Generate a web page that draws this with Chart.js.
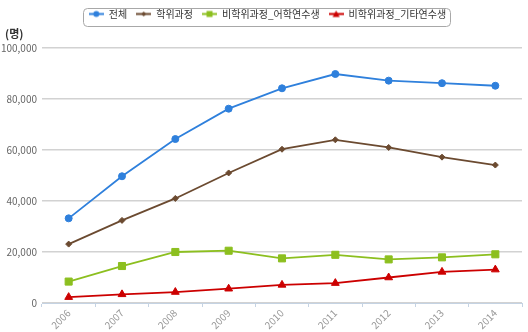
<!DOCTYPE html>
<html>
<head>
<meta charset="utf-8">
<script src="https://cdn.jsdelivr.net/npm/chart.js@4"></script>
<style>
  html, body { margin: 0; padding: 0; background: #fff; }
  #wrap { width: 528px; height: 332px; }
</style>
</head>
<body>
<div id="wrap"><canvas id="chart"></canvas></div>
<script>
const years = ["2006", "2007", "2008", "2009", "2010", "2011", "2012", "2013", "2014"];
const total = [33200, 49700, 64300, 76200, 84200, 89800, 87200, 86200, 85200];
const degree = [23100, 32400, 41000, 51000, 60300, 64000, 61000, 57200, 54100];
const langStudents = [8400, 14500, 20000, 20500, 17500, 18900, 17100, 17900, 19100];
const otherStudents = [2300, 3400, 4300, 5600, 7100, 7800, 10000, 12200, 13100];
const yTicks = [0, 20000, 40000, 60000, 80000, 100000];

const FONT = "'Noto Sans CJK KR', 'Noto Sans', sans-serif";
const LEGEND_SHIFT = 5;

// legend icon: short line with the marker on it
function legendIcon(color, style) {
  const c = document.createElement("canvas");
  c.width = 15; c.height = 9;
  const g = c.getContext("2d");
  g.strokeStyle = color; g.fillStyle = color; g.lineWidth = 2;
  g.beginPath(); g.moveTo(0, 4.5); g.lineTo(15, 4.5); g.stroke();
  g.beginPath();
  if (style === "circle") g.arc(7.5, 4.5, 3, 0, Math.PI * 2);
  else if (style === "rectRot") { g.moveTo(7.5, 2); g.lineTo(10, 4.5); g.lineTo(7.5, 7); g.lineTo(5, 4.5); g.closePath(); }
  else if (style === "rect") g.rect(4.5, 1.5, 6, 6);
  else { g.moveTo(7.5, 1); g.lineTo(11, 7.5); g.lineTo(4, 7.5); g.closePath(); }
  g.fill();
  return c;
}

function series(label, data, color, style, radius) {
  return {
    label: label,
    data: data,
    borderColor: color,
    backgroundColor: color,
    pointBackgroundColor: color,
    pointBorderColor: color,
    pointBorderWidth: 1,
    pointStyle: style,
    pointRadius: radius,
    pointHoverRadius: radius,
    borderWidth: 1.8,
    tension: 0,
    legendIcon: legendIcon(color, style)
  };
}

const frame = {
  id: "frame",
  beforeLayout(chart) {
    const lg = chart.legend;
    if (lg && !lg._patched) {
      const fit = lg.fit;
      lg.fit = function () { fit.call(this); this.height += 19; };
      const draw = lg.draw;
      lg.draw = function () {
        this.ctx.save();
        this.ctx.translate(LEGEND_SHIFT, 0);
        draw.apply(this, arguments);
        this.ctx.restore();
      };
      lg._patched = true;
    }
  },
  afterDraw(chart) {
    const ctx = chart.ctx;
    ctx.save();
    // unit label
    ctx.font = "bold 11px " + FONT;
    ctx.fillStyle = "#333";
    ctx.textBaseline = "middle";
    ctx.fillText("(명)", 5, 34);
    // legend border
    const boxes = chart.legend.legendHitBoxes;
    if (boxes && boxes.length) {
      let x0 = Infinity, x1 = -Infinity;
      boxes.forEach(b => { x0 = Math.min(x0, b.left); x1 = Math.max(x1, b.left + b.width); });
      ctx.strokeStyle = "#a8a8a8";
      ctx.lineWidth = 1;
      ctx.beginPath();
      ctx.roundRect(Math.round(x0) + LEGEND_SHIFT - 5.5, 8.5, Math.round(x1 - x0) + 10, 18, 4);
      ctx.stroke();
    }
    ctx.restore();
  }
};

new Chart(document.getElementById("chart"), {
  type: "line",
  data: {
    labels: years,
    datasets: [
      series("전체", total, "#2f80dc", "circle", 3.5),
      series("학위과정", degree, "#6b4a30", "rectRot", 3),
      series("비학위과정_어학연수생", langStudents, "#8cbf1f", "rect", 5),
      series("비학위과정_기타연수생", otherStudents, "#cc0000", "triangle", 4.5)
    ]
  },
  options: {
    responsive: true,
    maintainAspectRatio: false,
    animation: false,
    layout: { padding: { top: 0, right: 3, left: 0, bottom: 0 } },
    plugins: {
      tooltip: { enabled: false },
      legend: {
        position: "top",
        labels: {
          usePointStyle: true,
          pointStyleWidth: 15,
          padding: 9,
          color: "#333",
          font: { family: FONT, size: 10 },
          generateLabels(chart) {
            return chart.data.datasets.map((ds, i) => ({
              text: ds.label,
              pointStyle: ds.legendIcon,
              fillStyle: ds.borderColor,
              strokeStyle: ds.borderColor,
              lineWidth: 0,
              fontColor: "#333",
              hidden: false,
              datasetIndex: i
            }));
          }
        }
      }
    },
    scales: {
      x: {
        offset: true,
        afterFit(scale) { scale.height = 29; },
        border: { color: "#c5d3e3", width: 1 },
        grid: { display: true, drawOnChartArea: false, drawTicks: true, tickLength: 4, color: "#c5d3e3", offset: true },
        ticks: {
          color: "#999",
          font: { family: FONT, size: 10 },
          maxRotation: 45,
          minRotation: 45,
          padding: 0
        }
      },
      y: {
        min: 0,
        max: 100000,
        afterFit(scale) { scale.width = 42; },
        afterBuildTicks(scale) { scale.ticks = yTicks.map(v => ({ value: v })); },
        border: { display: false },
        grid: { color: "#d2d2d2", lineWidth: 1.5, drawTicks: false },
        ticks: {
          color: "#666",
          padding: 5,
          font: { family: FONT, size: 10 },
          callback: v => v.toLocaleString("en-US")
        }
      }
    }
  },
  plugins: [frame]
});
</script>
</body>
</html>
